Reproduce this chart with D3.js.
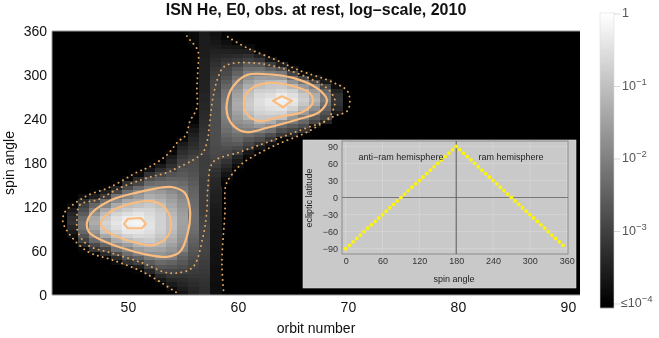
<!DOCTYPE html>
<html>
<head>
<meta charset="utf-8">
<script src="https://cdn.jsdelivr.net/npm/d3@7"></script>
<style>
  html, body { margin: 0; padding: 0; background: #fff; }
  svg { display: block; filter: blur(0.35px); }
  text { font-family: "Liberation Sans", Arial, sans-serif; }
</style>
</head>
<body>
<div id="chart"></div>
<script>
// position of each cell on the colour bar, in percent (0 = 1e-4, 100 = 1)
// one list per orbit, first entry belongs to the spin bin in firstBin (bins are 6 deg wide)
var orbits = [45, 46, 47, 48, 49, 50, 51, 52, 53, 54, 55, 56, 57, 58, 59, 60, 61, 62, 63, 64, 65, 66, 67, 68, 69];
var firstBin = [13, 10, 9, 8, 7, 6, 5, 4, 2, 0, 0, 0, 0, 0, 25, 28, 30, 32, 34, 35, 35, 36, 38, 39, 41];
var levels = [
  [5, 10, 15, 20, 18, 14, 9, 4],
  [3, 15, 26, 33, 40, 45, 46, 42, 36, 31, 26, 17, 5],
  [3, 20, 29, 42, 52, 58, 64, 68, 66, 58, 50, 40, 29, 12, 2],
  [3, 17, 28, 40, 52, 66, 77, 81, 83, 80, 74, 66, 52, 42, 23, 12, 1],
  [5, 17, 30, 45, 55, 68, 77, 83, 88, 90, 88, 83, 76, 67, 55, 46, 27, 14, 2],
  [3, 20, 32, 43, 52, 62, 74, 82, 90, 93, 95, 93, 87, 80, 74, 66, 53, 44, 30, 20, 4],
  [2, 12, 26, 38, 50, 61, 70, 78, 85, 90, 94, 96, 94, 90, 84, 76, 68, 60, 52, 42, 28, 17, 5],
  [3, 15, 27, 36, 48, 57, 65, 74, 80, 84, 87, 89, 89, 88, 86, 83, 79, 74, 68, 62, 51, 42, 32, 20, 8, 1],
  [2, 9, 16, 26, 34, 41, 51, 58, 64, 70, 75, 78, 81, 82, 82, 82, 81, 79, 75, 70, 65, 60, 52, 44, 36, 28, 18, 10, 2],
  [1, 5, 10, 15, 21, 27, 33, 39, 49, 54, 59, 63, 67, 70, 73, 75, 75, 74, 72, 69, 66, 63, 60, 55, 50, 44, 39, 33, 24, 19, 14, 10, 4],
  [8, 11, 14, 17, 20, 26, 30, 34, 38, 42, 51, 54, 57, 59, 61, 62, 63, 63, 62, 60, 58, 56, 53, 50, 46, 42, 38, 35, 32, 29, 26, 22, 18, 14, 10, 4],
  [14, 15, 17, 19, 21, 23, 26, 28, 30, 32, 34, 36, 38, 40, 42, 43, 44, 44, 44, 43, 42, 41, 40, 39, 38, 36, 34, 32, 31, 30, 29, 26, 22, 19, 17, 15, 12, 9, 6, 2,
   0, 0, 0, 0, 0, 0, 0, 0, 0, 0, 0, 0, 0, 0, 0, 0, 1, 3, 4, 4],
  [18, 18, 19, 20, 21, 22, 23, 24, 25, 26, 27, 27, 27, 27, 27, 27, 26, 25, 24, 24, 23, 23, 23, 23, 23, 23, 23, 24, 24, 24, 24, 24, 25, 24, 23, 22, 21, 20, 19, 18,
   17, 16, 15, 15, 14, 14, 13, 13, 13, 12, 12, 12, 12, 12, 11, 11, 11, 11, 11, 10],
  [5, 5, 5, 6, 6, 6, 6, 7, 7, 7, 7, 8, 8, 8, 8, 9, 9, 9, 10, 10, 11, 12, 12, 13, 14, 15, 16, 18, 20, 23, 26, 28, 29, 29, 30, 30, 30, 30, 30, 30,
   30, 30, 30, 30, 30, 29, 28, 28, 27, 25, 23, 21, 19, 17, 15, 13, 11, 9, 7, 6],
  [1, 4, 8, 12, 16, 20, 25, 28, 31, 34, 37, 40, 43, 45, 47, 49, 50, 50, 49, 48, 46, 44, 40, 36, 32, 29, 27, 24, 20, 16, 13, 9, 6, 2],
  [1, 5, 10, 15, 23, 29, 35, 40, 44, 49, 53, 57, 60, 63, 66, 67, 66, 63, 60, 56, 50, 45, 39, 34, 27, 22, 17, 12, 8, 2],
  [1, 4, 9, 22, 28, 34, 42, 50, 55, 60, 70, 75, 79, 80, 79, 77, 74, 68, 62, 57, 50, 43, 36, 25, 19, 12, 4],
  [2, 9, 20, 30, 38, 49, 60, 72, 78, 82, 85, 87, 87, 85, 81, 75, 69, 62, 52, 44, 34, 22, 13, 2],
  [8, 22, 31, 44, 54, 68, 78, 84, 88, 91, 91, 87, 82, 78, 72, 61, 50, 38, 24, 9],
  [3, 22, 32, 42, 56, 76, 83, 89, 93, 95, 92, 85, 79, 74, 60, 48, 32, 12],
  [1, 15, 27, 36, 47, 59, 73, 83, 89, 91, 88, 82, 72, 58, 44, 27, 8],
  [2, 20, 30, 40, 48, 60, 72, 78, 81, 79, 72, 60, 46, 28, 5],
  [8, 28, 36, 48, 56, 66, 71, 68, 60, 50, 30, 8],
  [14, 27, 32, 38, 44, 49, 47, 41, 28, 10],
  [10, 17, 20, 21, 20, 14, 5]
];

// contours as [orbit, spin angle]
var outerLeft = [[55.36, 353], [55.64, 348], [56.36, 333], [56.36, 307], [56.27, 282], [56.27, 255], [55.64, 237], [55.27, 218], [54.55, 209], [53.55, 191], [52, 175], [50.91, 168], [48.36, 147], [46.36, 136], [45.18, 125], [44.27, 113], [44.09, 100], [44.73, 82], [46.36, 59], [48.55, 48], [51.55, 30], [54.45, 3]];
var outerRight = [[59.09, 352], [60.82, 337], [63.55, 320], [65.45, 307], [68.64, 290], [70, 277], [70, 252], [68.64, 243], [66.27, 222], [63.82, 207], [62, 194], [60.45, 180], [59.55, 166], [58.91, 150], [58.82, 112], [58.55, 44], [58.73, 0]];
var innerLoop = [[45.36, 100], [45.64, 123], [47.27, 130], [49.27, 146], [51.82, 160], [53.36, 166], [54.45, 173], [55.91, 184], [56.82, 194], [57.27, 214], [57.36, 225], [57.73, 269], [58.18, 296], [58.64, 310], [59.55, 316], [61.73, 316], [63.82, 310], [66.27, 297], [68.09, 282], [68.82, 266], [68.64, 252], [68.09, 239], [66.27, 228], [63.18, 211], [60.18, 195], [57.73, 181], [57.27, 147], [57.18, 116], [56.82, 79], [55.91, 38], [54.45, 30], [53.36, 31], [51.27, 44], [48.55, 57], [46.36, 68], [45.45, 86]];
var lowerSolid1 = [[46.27, 98], [46.73, 112], [48.55, 130], [50.91, 140], [53.36, 147], [54.09, 147], [55.18, 139], [55.64, 116], [55.45, 85], [54.73, 59], [53.55, 52], [51.73, 55], [49.27, 65], [47.18, 78], [46.45, 86]];
var lowerSolid2 = [[47.55, 98], [48.36, 113], [50.36, 125], [52.18, 128], [53.36, 119], [53.91, 98], [53.55, 79], [52.27, 68], [50.82, 71], [48.64, 82], [47.73, 91]];
var lowerPeak = [[49.64, 97], [50, 104], [51.18, 105], [51.64, 97], [51.27, 91], [50, 91]];
var upperSolid1 = [[59, 262], [59.55, 284], [60.82, 300], [62.64, 301], [65, 296], [67.18, 282], [68.09, 266], [67.45, 250], [65.36, 239], [62.64, 228], [60.82, 222], [59.73, 229], [59.09, 243]];
var upperSolid2 = [[60.55, 263], [61.09, 280], [62.64, 289], [64.73, 286], [66.55, 275], [66.82, 263], [65.91, 250], [63.82, 243], [62, 237], [60.91, 245]];
var upperPeak = [[63.18, 265], [64, 271], [64.91, 265], [64.09, 256]];

// inset
var insetSpin = [0, 6, 12, 18, 24, 30, 36, 42, 48, 54, 60, 66, 72, 78, 84, 90, 96, 102, 108, 114, 120, 126, 132, 138, 144, 150, 156, 162, 168, 174, 180, 186, 192, 198, 204, 210, 216, 222, 228, 234, 240, 246, 252, 258, 264, 270, 276, 282, 288, 294, 300, 306, 312, 318, 324, 330, 336, 342, 348, 354];
var insetLat = [-90, -84, -78, -72, -66, -60, -54, -48, -42, -36, -30, -24, -18, -12, -6, 0, 6, 12, 18, 24, 30, 36, 42, 48, 54, 60, 66, 72, 78, 84, 90, 84, 78, 72, 66, 60, 54, 48, 42, 36, 30, 24, 18, 12, 6, 0, -6, -12, -18, -24, -30, -36, -42, -48, -54, -60, -66, -72, -78, -84];
var insetSpinTicks = [0, 60, 120, 180, 240, 300, 360];
var insetLatTicks = [-90, -60, -30, 0, 30, 60, 90];

var orbitTicks = [50, 60, 70, 80, 90];
var spinTicks = [0, 60, 120, 180, 240, 300, 360];
var barTicks = [
  { v: 0, sign: "", base: "1", exp: "" },
  { v: -1, sign: "", base: "10", exp: "\u22121" },
  { v: -2, sign: "", base: "10", exp: "\u22122" },
  { v: -3, sign: "", base: "10", exp: "\u22123" },
  { v: -4, sign: "\u2264", base: "10", exp: "\u22124" }
];

var svg = d3.select("#chart").append("svg")
  .attr("width", 659)
  .attr("height", 338);

// main plot
var x = d3.scaleLinear().domain([43.1, 91.1]).range([52, 580]);
var y = d3.scaleLinear().domain([0, 360]).range([295, 31]);
var gray = d3.scaleLinear().domain([0, 100]).range(["#000", "#fff"]);

svg.append("clipPath")
  .attr("id", "plot-clip")
  .append("rect")
  .attr("x", x.range()[0])
  .attr("y", y.range()[1])
  .attr("width", x.range()[1] - x.range()[0])
  .attr("height", y.range()[0] - y.range()[1]);

svg.append("rect")
  .attr("x", x.range()[0])
  .attr("y", y.range()[1])
  .attr("width", x.range()[1] - x.range()[0])
  .attr("height", y.range()[0] - y.range()[1])
  .attr("fill", "#000");

var cells = [];
orbits.forEach(function (o, i) {
  levels[i].forEach(function (l, j) {
    cells.push({ orbit: o, bin: firstBin[i] + j, level: l });
  });
});

svg.append("g")
  .attr("clip-path", "url(#plot-clip)")
  .selectAll("rect")
  .data(cells)
  .enter()
  .append("rect")
  .attr("x", function (d) { return x(d.orbit - 0.5); })
  .attr("y", function (d) { return y((d.bin + 1) * 6); })
  .attr("width", x(1) - x(0) + 0.6)
  .attr("height", y(0) - y(6) + 0.6)
  .attr("shape-rendering", "crispEdges")
  .attr("fill", function (d) { return gray(d.level); });

var smooth = d3.line().x(function (d) { return x(d[0]); }).y(function (d) { return y(d[1]); });

var dotted = [
  { pts: outerLeft, curve: d3.curveCatmullRom },
  { pts: outerRight, curve: d3.curveCatmullRom },
  { pts: innerLoop, curve: d3.curveCatmullRomClosed }
];
var solid = [
  { pts: lowerSolid1, curve: d3.curveCatmullRomClosed },
  { pts: lowerSolid2, curve: d3.curveCatmullRomClosed },
  { pts: lowerPeak, curve: d3.curveLinearClosed },
  { pts: upperSolid1, curve: d3.curveCatmullRomClosed },
  { pts: upperSolid2, curve: d3.curveCatmullRomClosed },
  { pts: upperPeak, curve: d3.curveLinearClosed }
];

svg.append("g").selectAll("path")
  .data(dotted)
  .enter()
  .append("path")
  .attr("d", function (d) { return smooth.curve(d.curve)(d.pts); })
  .attr("fill", "none")
  .attr("stroke", "#e0a662")
  .attr("stroke-width", 1.9)
  .attr("stroke-linecap", "round")
  .attr("stroke-dasharray", "0.1 5");

svg.append("g").selectAll("path")
  .data(solid)
  .enter()
  .append("path")
  .attr("d", function (d) { return smooth.curve(d.curve)(d.pts); })
  .attr("fill", "none")
  .attr("stroke", "#fbbd7f")
  .attr("stroke-width", 2.2)
  .attr("stroke-linejoin", "round");

// frame
svg.append("path")
  .attr("d", d3.line()([[x.range()[1], y.range()[1]], [x.range()[0], y.range()[1]], [x.range()[0], y.range()[0]], [x.range()[1], y.range()[0]]]))
  .attr("fill", "none")
  .attr("stroke", "#9a9a9a")
  .attr("stroke-width", 1);

var xAxis = svg.append("g")
  .attr("transform", "translate(0,295)")
  .call(d3.axisBottom(x).tickValues(orbitTicks).tickSize(0).tickPadding(7));
var yAxis = svg.append("g")
  .attr("transform", "translate(52,0)")
  .call(d3.axisLeft(y).tickValues(spinTicks).tickSize(0).tickPadding(5));
[xAxis, yAxis].forEach(function (a) {
  a.select(".domain").remove();
  a.selectAll("text").attr("fill", "#111").style("font-size", "14px");
});

svg.append("text")
  .attr("x", 316)
  .attr("y", 15)
  .attr("text-anchor", "middle")
  .style("font-size", "16px")
  .style("font-weight", "bold")
  .attr("fill", "#111")
  .text("ISN He, E0, obs. at rest, log\u2013scale, 2010");

svg.append("text")
  .attr("x", 316)
  .attr("y", 333)
  .attr("text-anchor", "middle")
  .style("font-size", "14px")
  .attr("fill", "#111")
  .text("orbit number");

svg.append("text")
  .attr("transform", "translate(14,163) rotate(-90)")
  .attr("text-anchor", "middle")
  .style("font-size", "14px")
  .attr("fill", "#111")
  .text("spin angle");

// colour bar
var barY = d3.scaleLinear().domain([0, -4]).range([14, 304]);
var barSteps = d3.range(0, 295);
svg.append("g").selectAll("rect")
  .data(barSteps)
  .enter()
  .append("rect")
  .attr("x", 600)
  .attr("y", function (d) { return 13 + d; })
  .attr("width", 14)
  .attr("height", 1.2)
  .attr("fill", function (d) { return gray(Math.max(0, Math.min(100, 100 * (barY.invert(13 + d) + 4) / 4))); });

svg.append("rect")
  .attr("x", 600)
  .attr("y", 13)
  .attr("width", 14)
  .attr("height", 295)
  .attr("fill", "none")
  .attr("stroke", "#ddd")
  .attr("stroke-width", 0.6);

var barTick = svg.append("g").selectAll("g")
  .data(barTicks)
  .enter()
  .append("g")
  .attr("transform", function (d) { return "translate(614," + barY(d.v) + ")"; });

barTick.append("line")
  .attr("x2", 6)
  .attr("stroke", "#ccc")
  .attr("stroke-width", 0.8);

var barLabel = barTick.append("text")
  .attr("x", function (d) { return d.sign ? 7 : 8; })
  .attr("y", 3)
  .attr("fill", "#555")
  .style("font-size", "12.5px");
barLabel.append("tspan").text(function (d) { return d.sign + d.base; });
barLabel.append("tspan")
  .attr("dy", -5)
  .style("font-size", "9.5px")
  .text(function (d) { return d.exp; });

// inset
svg.append("rect")
  .attr("x", 303)
  .attr("y", 140)
  .attr("width", 273)
  .attr("height", 148)
  .attr("fill", "#c9c9c9")
  .attr("stroke", "#ddd")
  .attr("stroke-width", 0.6);

var ix = d3.scaleLinear().domain([0, 360]).range([345.7, 566.7]);
var iy = d3.scaleLinear().domain([-90, 90]).range([248.7, 146.3]);
var inset = svg.append("g");

inset.append("g").selectAll("line")
  .data(insetSpinTicks)
  .enter()
  .append("line")
  .attr("x1", function (d) { return ix(d); })
  .attr("x2", function (d) { return ix(d); })
  .attr("y1", 141)
  .attr("y2", 254)
  .attr("stroke", "#d6d6d6")
  .attr("stroke-width", 0.8);

inset.append("g").selectAll("line")
  .data(insetLatTicks)
  .enter()
  .append("line")
  .attr("x1", 342)
  .attr("x2", 568)
  .attr("y1", function (d) { return iy(d); })
  .attr("y2", function (d) { return iy(d); })
  .attr("stroke", "#d6d6d6")
  .attr("stroke-width", 0.8);

inset.append("rect")
  .attr("x", 342)
  .attr("y", 141)
  .attr("width", 226)
  .attr("height", 113)
  .attr("fill", "none")
  .attr("stroke", "#8c8c8c")
  .attr("stroke-width", 1);

inset.append("line")
  .attr("x1", 342)
  .attr("x2", 568)
  .attr("y1", iy(0))
  .attr("y2", iy(0))
  .attr("stroke", "#777")
  .attr("stroke-width", 1.2);

inset.append("line")
  .attr("x1", ix(180))
  .attr("x2", ix(180))
  .attr("y1", 141)
  .attr("y2", 254)
  .attr("stroke", "#555")
  .attr("stroke-width", 1);

inset.append("g").selectAll("circle")
  .data(insetSpin)
  .enter()
  .append("circle")
  .attr("cx", function (d) { return ix(d); })
  .attr("cy", function (d, i) { return iy(insetLat[i]); })
  .attr("r", 1.9)
  .attr("fill", "#fcf40a");

var ixAxis = inset.append("g")
  .attr("transform", "translate(0,254)")
  .call(d3.axisBottom(ix).tickValues(insetSpinTicks).tickSize(0).tickPadding(4).tickFormat(d3.format("d")));
var iyAxis = inset.append("g")
  .attr("transform", "translate(342,0)")
  .call(d3.axisLeft(iy).tickValues(insetLatTicks).tickSize(0).tickPadding(4)
    .tickFormat(function (d) { return d < 0 ? "\u2212" + (-d) : d; }));
[ixAxis, iyAxis].forEach(function (a) {
  a.select(".domain").remove();
  a.selectAll("text").attr("fill", "#333").style("font-size", "9px");
});

inset.append("text")
  .attr("x", 401)
  .attr("y", 160)
  .attr("text-anchor", "middle")
  .attr("fill", "#222")
  .style("font-size", "9px")
  .text("anti\u2212ram hemisphere");

inset.append("text")
  .attr("x", 511)
  .attr("y", 160)
  .attr("text-anchor", "middle")
  .attr("fill", "#222")
  .style("font-size", "9px")
  .text("ram hemisphere");

inset.append("text")
  .attr("x", 454)
  .attr("y", 282)
  .attr("text-anchor", "middle")
  .attr("fill", "#222")
  .style("font-size", "9px")
  .text("spin angle");

inset.append("text")
  .attr("transform", "translate(312,198) rotate(-90)")
  .attr("text-anchor", "middle")
  .attr("fill", "#222")
  .style("font-size", "9px")
  .text("ecliptic latitude");
</script>
</body>
</html>
